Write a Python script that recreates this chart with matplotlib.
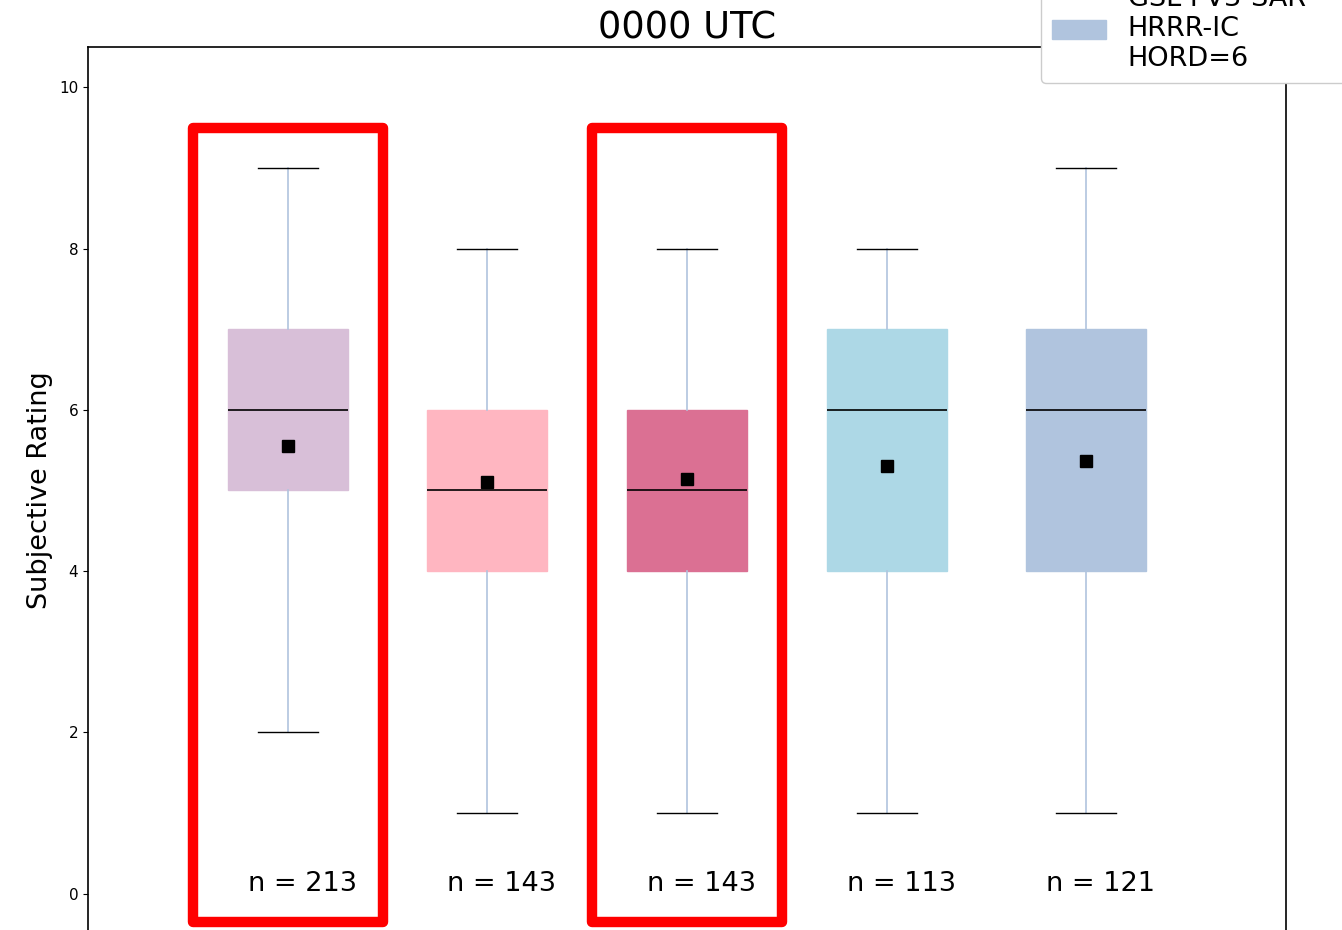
import numpy as np
import matplotlib
matplotlib.use("Agg")
import matplotlib.pyplot as plt
from matplotlib.patches import Rectangle, Patch

# box statistics
positions = [1, 2, 3, 4, 5]
whislo = [2, 1, 1, 1, 1]
q1 = [5, 4, 4, 4, 4]
med = [6, 5, 5, 6, 6]
q3 = [7, 6, 6, 7, 7]
whishi = [9, 8, 8, 8, 9]
means = [5.55, 5.10, 5.14, 5.31, 5.37]
counts = [213, 143, 143, 113, 121]
colors = ["thistle", "lightpink", "palevioletred", "lightblue", "lightsteelblue"]
highlighted = [1, 3]

fig = plt.figure(figsize=(13.42, 9.30), dpi=100)
ax = fig.add_axes([88 / 1342, -4 / 930, 1198 / 1342, 887 / 930])

stats = []
for i in range(len(positions)):
    stats.append(dict(whislo=whislo[i], q1=q1[i], med=med[i], q3=q3[i],
                      whishi=whishi[i], mean=means[i], fliers=[]))

bp = ax.bxp(stats, positions=positions, widths=0.6, patch_artist=True,
            showmeans=True, showfliers=False,
            whiskerprops=dict(color="lightsteelblue", lw=1.2),
            capprops=dict(color="black", lw=1.0),
            medianprops=dict(color="black", lw=1.2),
            meanprops=dict(marker="s", markerfacecolor="black",
                           markeredgecolor="black", markersize=8))
for patch, c in zip(bp["boxes"], colors):
    patch.set_facecolor(c)
    patch.set_edgecolor(c)

for p, n in zip(positions, counts):
    ax.text(p - 0.2, 0.12, f"n = {n}", ha="left", va="center", fontsize=19.5)

# red highlight frames
for p in highlighted:
    ax.add_patch(Rectangle((p - 0.475, -0.35), 0.95, 9.85, fill=False,
                           edgecolor="red", lw=7.5, joinstyle="round",
                           clip_on=False, zorder=5))

ax.set_xlim(0, 6)
ax.set_ylim(-0.5, 10.5)
ax.set_xticks([])
ax.set_yticks([0, 2, 4, 6, 8, 10])
ax.tick_params(axis="y", labelsize=11)
ax.set_ylabel("Subjective Rating", fontsize=19.5)
ax.set_title("0000 UTC", fontsize=26.5)
for s in ax.spines.values():
    s.set_linewidth(1.2)

handles = [Patch(facecolor="lightsteelblue", edgecolor="lightsteelblue")]
fig.legend(handles, ["GSL FV3-SAR\nHRRR-IC\nHORD=6"], loc="lower left",
           bbox_to_anchor=(1041 / 1342, 847 / 930, 0.3, 0.2),
           mode="expand", borderaxespad=0, fontsize=19.5, framealpha=1)

fig.savefig("out.png", dpi=100)
